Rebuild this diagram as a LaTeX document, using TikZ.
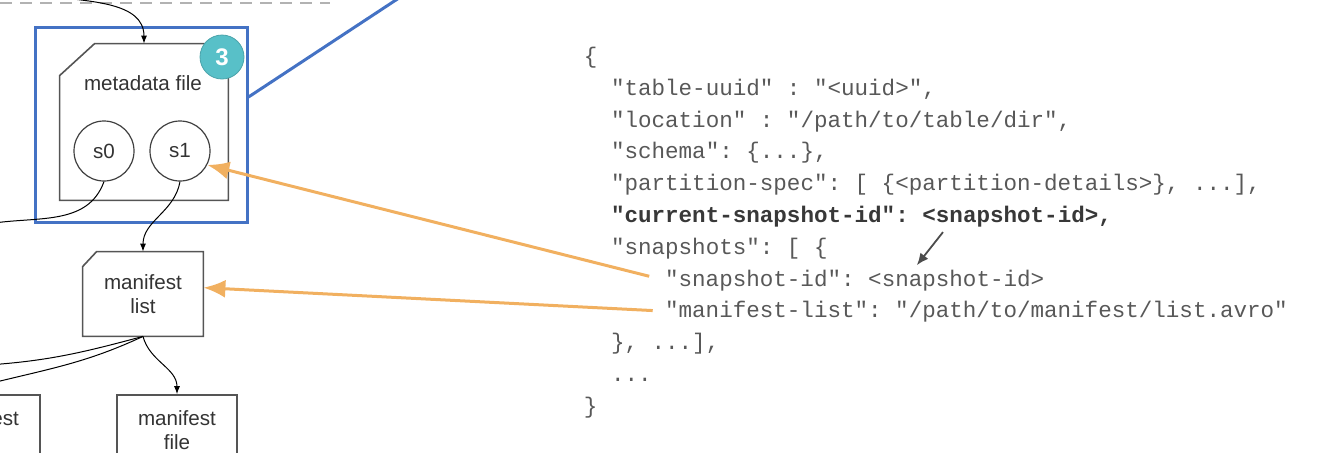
\documentclass[tikz,border=0pt]{standalone}
\usepackage{fontspec}
\setsansfont{Liberation Sans}
\setmonofont{Liberation Mono}
\usetikzlibrary{arrows.meta,positioning}
\definecolor{frameblue}{RGB}{68,114,196}
\definecolor{badgeteal}{RGB}{88,192,200}
\definecolor{callorange}{RGB}{241,176,96}
\definecolor{codegray}{RGB}{88,88,88}
\definecolor{linegray}{RGB}{85,85,85}
\begin{document}
\begin{tikzpicture}[x=0.5pt, y=-0.5pt,
    boxtext/.style={font=\sffamily\fontsize{10.3}{12}\selectfont, text=black!80, align=center},
    snapnode/.style={boxtext, circle, draw=black!75, line width=0.6pt, minimum size=30pt, inner sep=0pt},
    jsonline/.style={font=\ttfamily\fontsize{11.28}{13}\selectfont, text=codegray, anchor=base west, inner sep=0pt},
    jsonbold/.style={jsonline, font=\ttfamily\bfseries\fontsize{11.28}{13}\selectfont, text=black!78},
    flow/.style={-{Latex[length=4pt,width=3pt]}, line width=0.5pt},
    callout/.style={-{Latex[length=11pt,width=9pt]}, callorange, line width=1.5pt}]
\useasboundingbox (0,0) rectangle (1332,452);
\clip (0,0) rectangle (1332,452);

% dashed separator
\draw[black!30, line width=0.8pt, dash pattern=on 6pt off 4pt] (0,3) -- (330,3);

% blue frame round the metadata file
\node[draw=frameblue, line width=1.5pt, minimum width=106pt, minimum height=97.5pt] (frame) at (141,125) {};
\coordinate (zoomto) at (402,-4);
\draw[frameblue, line width=1.5pt] ([yshift=14pt]frame.east) -- (zoomto);

% metadata file
\node[minimum width=84pt, minimum height=78pt, inner sep=0pt] (meta) at (144,122) {};
\draw[linegray, line width=0.8pt] ([yshift=-16pt]meta.north west) -- ([xshift=17.5pt]meta.north west)
    -- (meta.north east) -- (meta.south east) -- (meta.south west) -- cycle;
\node[boxtext] (metaname) at (143,83) {metadata file};
\node[snapnode] (s0) at (104,151) {s0};
\node[snapnode] (s1) at (180,151) {s1};
\node[circle, fill=badgeteal, draw=badgeteal!85!black, line width=0.4pt, minimum size=22pt, inner sep=0pt,
    text=white, font=\sffamily\bfseries\fontsize{12}{12}\selectfont] (badge) at (222,57) {3};

% manifest list
\node[boxtext, minimum width=60pt, minimum height=42pt, inner sep=0pt] (mlist) at (143,294) {manifest\\list};
\draw[linegray, line width=0.8pt] ([yshift=-7.5pt]mlist.north west) -- ([xshift=7pt]mlist.north west)
    -- (mlist.north east) -- (mlist.south east) -- (mlist.south west) -- cycle;

% manifest files
\node[boxtext, draw=linegray, line width=0.8pt, minimum width=60pt, minimum height=35pt, inner sep=0pt] (mfile0) at (-20,430) {manifest\\file};
\node[boxtext, draw=linegray, line width=0.8pt, minimum width=60pt, minimum height=35pt, inner sep=0pt] (mfile) at (177,430) {manifest\\file};

% connectors
\coordinate (topin) at (48,-4);
\coordinate (s0out) at (-12,224);
\coordinate (spill1) at (-12,365);
\coordinate (spill2) at (-12,384);
\draw[flow] (topin) to[out=-8, in=90] (meta.north);
\draw[line width=0.5pt] (s0.south) to[out=-110, in=10] (s0out);
\draw[flow] (s1.south) to[out=-100, in=90] (mlist.north);
\draw[flow] (mlist.south) to[out=-75, in=90] (mfile.north);
\draw[line width=0.5pt] (mlist.south) to[out=-165, in=4] (spill1);
\draw[line width=0.5pt] (mlist.south) to[out=-155, in=14] (spill2);

% table metadata
\node[jsonline] (open) at (583.5,63) {\{};
\node[jsonline] (uuid) at (610.6,95) {"table-uuid" : "<uuid>",};
\node[jsonline] (loc) at (610.6,127) {"location" : "/path/to/table/dir",};
\node[jsonline] (schema) at (610.6,158) {"schema": \{...\},};
\node[jsonline] (pspec) at (610.6,190) {"partition-spec": [ \{<partition-details>\}, ...],};
\node[jsonbold] (curkey) at (610.6,222) {"current-snapshot-id":};
\node[jsonbold] (curval) at (922,222) {<snapshot-id>,};
\node[jsonline] (snaps) at (610.6,254) {"snapshots": [ \{};
\node[jsonline] (sidkey) at (664.7,286) {"snapshot-id":};
\node[jsonline] (sidval) at (867.8,286) {<snapshot-id>};
\node[jsonline] (mlistkey) at (664.7,317) {"manifest-list": "/path/to/manifest/list.avro"};
\node[jsonline] (close1) at (610.6,349) {\}, ...],};
\node[jsonline] (more) at (610.6,381) {...};
\node[jsonline] (close) at (583.5,413) {\}};

\draw[-{Latex[length=6pt,width=5pt]}, black!70, line width=0.9pt]
    ([xshift=10.5pt,yshift=-2.5pt]curval.south west) -- ([xshift=24.5pt,yshift=2pt]sidval.north west);

% links from metadata to diagram
\draw[callout, shorten <=8pt] (sidkey.west) -- (s1.-27);
\draw[callout, shorten <=6pt] (mlistkey.west) -- (mlist.6);
\end{tikzpicture}
\end{document}
